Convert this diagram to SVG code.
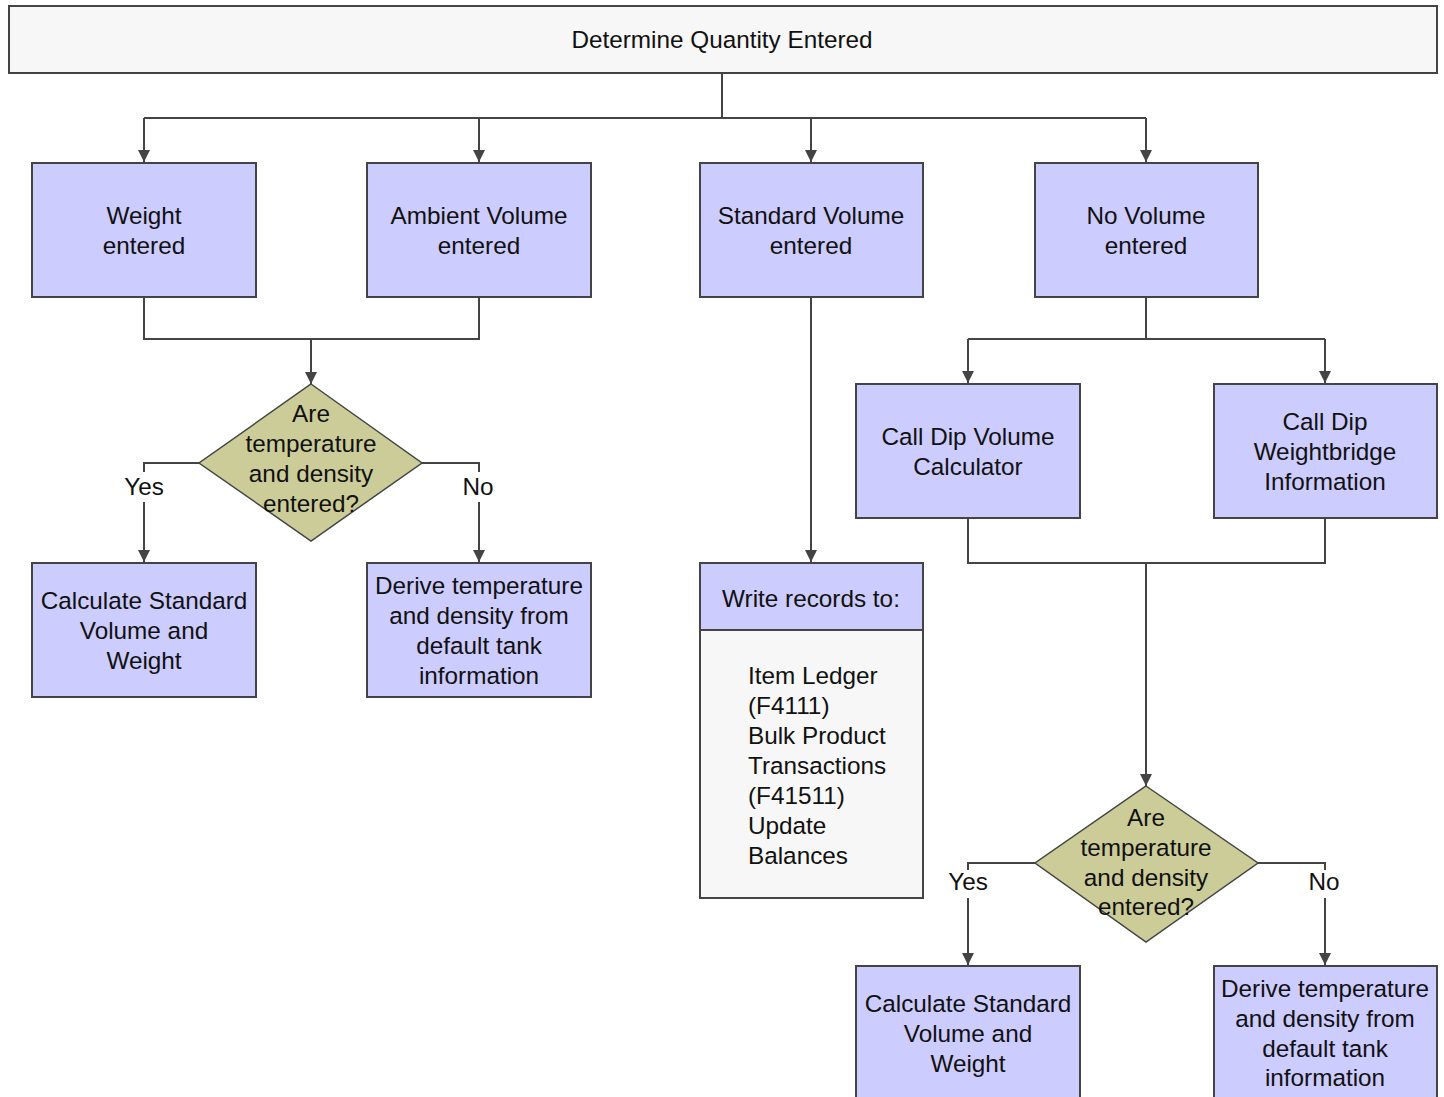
<svg xmlns="http://www.w3.org/2000/svg" width="1444" height="1097" viewBox="0 0 1444 1097">
<defs>
<style>
.box{fill:#CCCCFF;stroke:#444;stroke-width:2}
.hdr{fill:#F7F7F7;stroke:#444;stroke-width:2}
.dia{fill:#CCCC99;stroke:#444;stroke-width:1.5}
.ln{fill:none;stroke:#444;stroke-width:2}
.arr{fill:none;stroke:#444;stroke-width:2;marker-end:url(#ah)}
text{font-family:"Liberation Sans",Arial,sans-serif;font-size:24.3px;fill:#111;text-anchor:middle;dominant-baseline:central}
.lft{text-anchor:start}
</style>
<marker id="ah" markerWidth="14" markerHeight="14" refX="12" refY="6" orient="auto" markerUnits="userSpaceOnUse">
<path d="M0,0 L12,6 L0,12 Z" fill="#444"/>
</marker>
</defs>
<rect width="1444" height="1097" fill="#fff"/>
<g id="connectors">
<path class="ln" d="M722,73 V118 M144,118 H1146"/>
<path class="arr" d="M144,118 V162"/>
<path class="arr" d="M479,118 V162"/>
<path class="arr" d="M811,118 V162"/>
<path class="arr" d="M1146,118 V162"/>
<path class="ln" d="M144,297 V339 H479 V297"/>
<path class="arr" d="M311,339 V384"/>
<path class="ln" d="M199,463 H144 V472"/>
<path class="arr" d="M144,502 V562"/>
<path class="ln" d="M422,463 H479 V472"/>
<path class="arr" d="M479,502 V562"/>
<path class="arr" d="M811,297 V562"/>
<path class="ln" d="M1146,297 V339 M968,339 H1325"/>
<path class="arr" d="M968,339 V383"/>
<path class="arr" d="M1325,339 V383"/>
<path class="ln" d="M968,518 V563 H1325 V518"/>
<path class="arr" d="M1146,563 V786"/>
<path class="ln" d="M1035,863 H968 V870"/>
<path class="arr" d="M968,898 V965"/>
<path class="ln" d="M1258,863 H1325 V870"/>
<path class="arr" d="M1325,898 V965"/>
<text x="144" y="486">Yes</text>
<text x="478" y="486">No</text>
<text x="968" y="881">Yes</text>
<text x="1324" y="881">No</text>
</g>
<g id="n-top">
<rect class="hdr" x="9" y="6" width="1428" height="67"/>
<text x="722" y="39">Determine Quantity Entered</text>
</g>
<g id="n-weight">
<rect class="box" x="32" y="163" width="224" height="134"/>
<text x="144" y="215">Weight</text>
<text x="144" y="245">entered</text>
</g>
<g id="n-ambient">
<rect class="box" x="367" y="163" width="224" height="134"/>
<text x="479" y="215">Ambient Volume</text>
<text x="479" y="245">entered</text>
</g>
<g id="n-standard">
<rect class="box" x="700" y="163" width="223" height="134"/>
<text x="811" y="215">Standard Volume</text>
<text x="811" y="245">entered</text>
</g>
<g id="n-novolume">
<rect class="box" x="1035" y="163" width="223" height="134"/>
<text x="1146" y="215">No Volume</text>
<text x="1146" y="245">entered</text>
</g>
<g id="n-dec1">
<polygon class="dia" points="311,384 422,463 311,541 199,463"/>
<text x="311" y="413">Are</text>
<text x="311" y="443">temperature</text>
<text x="311" y="473">and density</text>
<text x="311" y="503">entered?</text>
</g>
<g id="n-calc1">
<rect class="box" x="32" y="563" width="224" height="134"/>
<text x="144" y="600">Calculate Standard</text>
<text x="144" y="630">Volume and</text>
<text x="144" y="660">Weight</text>
</g>
<g id="n-derive1">
<rect class="box" x="367" y="563" width="224" height="134"/>
<text x="479" y="585">Derive temperature</text>
<text x="479" y="615">and density from</text>
<text x="479" y="645">default tank</text>
<text x="479" y="675">information</text>
</g>
<g id="n-write">
<rect class="hdr" x="700" y="563" width="223" height="335"/>
<rect class="box" x="700" y="563" width="223" height="67"/>
<text x="811" y="598">Write records to:</text>
<text class="lft" x="748" y="675">Item Ledger</text>
<text class="lft" x="748" y="705">(F4111)</text>
<text class="lft" x="748" y="735">Bulk Product</text>
<text class="lft" x="748" y="765">Transactions</text>
<text class="lft" x="748" y="795">(F41511)</text>
<text class="lft" x="748" y="825">Update</text>
<text class="lft" x="748" y="855">Balances</text>
</g>
<g id="n-dipvol">
<rect class="box" x="856" y="384" width="224" height="134"/>
<text x="968" y="436">Call Dip Volume</text>
<text x="968" y="466">Calculator</text>
</g>
<g id="n-dipweigh">
<rect class="box" x="1214" y="384" width="223" height="134"/>
<text x="1325" y="421">Call Dip</text>
<text x="1325" y="451">Weightbridge</text>
<text x="1325" y="481">Information</text>
</g>
<g id="n-dec2">
<polygon class="dia" points="1146,786 1258,863 1146,942 1035,863"/>
<text x="1146" y="817">Are</text>
<text x="1146" y="847">temperature</text>
<text x="1146" y="877">and density</text>
<text x="1146" y="906">entered?</text>
</g>
<g id="n-calc2">
<rect class="box" x="856" y="966" width="224" height="140"/>
<text x="968" y="1003">Calculate Standard</text>
<text x="968" y="1033">Volume and</text>
<text x="968" y="1063">Weight</text>
</g>
<g id="n-derive2">
<rect class="box" x="1214" y="966" width="223" height="140"/>
<text x="1325" y="988">Derive temperature</text>
<text x="1325" y="1018">and density from</text>
<text x="1325" y="1048">default tank</text>
<text x="1325" y="1077">information</text>
</g>
</svg>
